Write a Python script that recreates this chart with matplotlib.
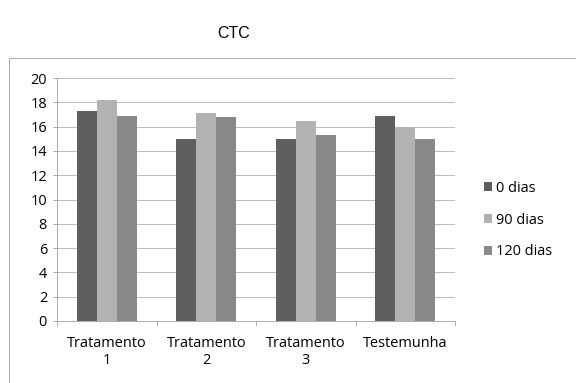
import numpy as np
import matplotlib.pyplot as plt
import matplotlib.patches as mpatches

categorias = ['Tratamento\n1', 'Tratamento\n2', 'Tratamento\n3', 'Testemunha']
dias_0 = [17.3, 15.0, 15.0, 16.9]
dias_90 = [18.2, 17.1, 16.5, 16.0]
dias_120 = [16.9, 16.8, 15.3, 15.0]
series = ['0 dias', '90 dias', '120 dias']
cores = ['#5f5f5f', '#b2b2b2', '#888888']

fig = plt.figure(figsize=(8, 5.32), dpi=72)
ax = fig.add_axes([0.099, 0.162, 0.691, 0.634])

x = np.arange(len(categorias))
w = 0.2
for i, (vals, nome, cor) in enumerate(zip([dias_0, dias_90, dias_120], series, cores)):
    ax.bar(x + (i - 1) * w, vals, w, color=cor, label=nome, zorder=3)

ax.set_xlim(-0.5, 3.5)
ax.set_ylim(0, 20)
ax.set_yticks(range(0, 21, 2))
ax.yaxis.grid(True, color='#bdbdbd', linewidth=1, zorder=0)
for s in ['top', 'right']:
    ax.spines[s].set_visible(False)
ax.spines['left'].set_color('#9a9a9a')
ax.spines['bottom'].set_color('#9a9a9a')

fonte = 'Open Sans'
ax.set_xticks(np.arange(-0.5, 4, 1))
ax.set_xticklabels([])
ax.set_xticks(x, minor=True)
ax.set_xticklabels(categorias, minor=True, fontsize=14.5, family=fonte,
                   linespacing=1.2)
ax.tick_params(axis='x', which='major', length=5, color='#9a9a9a')
ax.tick_params(axis='x', which='minor', length=0, pad=15)
ax.tick_params(axis='y', length=4, color='#9a9a9a', labelsize=14.5, pad=6)
for t in ax.get_yticklabels():
    t.set_family(fonte)

ax.legend(loc='center left', bbox_to_anchor=(1.04, 0.415), frameon=False,
          prop={'family': fonte, 'size': 14.5}, handlelength=0.55,
          handleheight=0.55, handletextpad=0.25, labelspacing=1.15)

fig.text(0.405, 0.9, 'CTC', fontsize=16, family='Liberation Sans', ha='center')

# moldura do gráfico
fig.patches.append(mpatches.Rectangle((9 / 576, -0.01), 1.2, 1 - 58 / 383 + 0.01,
                                      transform=fig.transFigure, fill=False,
                                      edgecolor='#b0b0b0', linewidth=1))

fig.savefig('out.png', dpi=72)
